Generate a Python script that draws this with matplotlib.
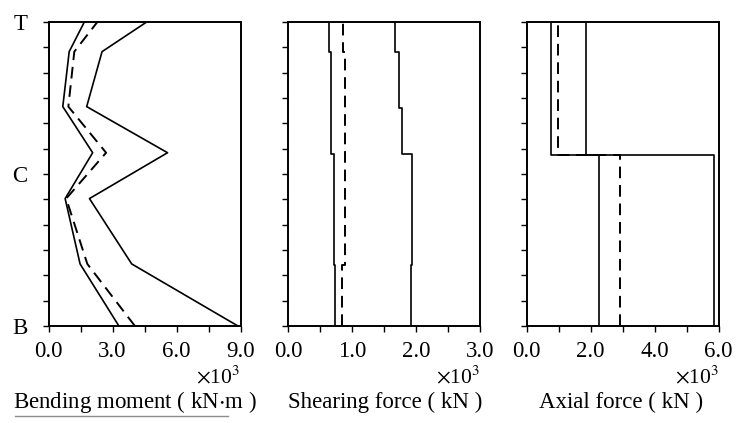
import numpy as np
import matplotlib
matplotlib.use("Agg")
import matplotlib.pyplot as plt
import matplotlib.transforms as mtransforms
from matplotlib.lines import Line2D

plt.rcParams['font.family'] = ['Liberation Serif', 'DejaVu Serif']

# storey levels (B = 0, C = 6, T = 12)
level_labels = ['B', 'C', 'T']
level_ticks = [0, 6, 12]

# bending moment envelope (x10^3 kN-m), vertices at these heights
bm_levels = [0, 2.45, 5.03, 6.84, 8.66, 10.83, 12]
bm_min = [3.30, 1.48, 0.78, 2.07, 0.67, 0.97, 1.68]
bm_mean = [4.05, 1.82, 0.83, 2.70, 0.93, 1.21, 2.29]
bm_max = [8.88, 3.90, 1.92, 5.58, 1.79, 2.51, 4.60]

# shearing force (x10^3 kN), constant between these heights
sf_edges = [0, 2.4, 5.0, 6.78, 8.6, 10.8, 12]
sf_min = [0.73, 0.72, 0.71, 0.66, 0.66, 0.63]
sf_mean = [0.84, 0.88, 0.89, 0.89, 0.89, 0.86]
sf_max = [1.91, 1.94, 1.93, 1.77, 1.73, 1.66]

# axial force (x10^3 kN)
af_edges = [0, 6.74, 12]
af_min = [2.27, 0.75]
af_mean = [2.92, 0.99]
af_max = [5.85, 1.86]


def steps(vals, edges):
    edges = np.asarray(edges, dtype=float)
    y = np.column_stack([edges[:-1], edges[1:]]).ravel()
    x = np.repeat(np.asarray(vals, dtype=float), 2)
    return x, y


fig = plt.figure(figsize=(7.42, 4.23), dpi=100)
W, H = 742.0, 423.0
bot, top = 326.0, 22.0
lefts = [48.5, 288.3, 526.7]
width = 192.0

panels = [
    dict(xmax=9.0, step=1.5, lab=[0, 3, 6, 9], title='Bending moment ( kN$\\cdot$m )', tx=135),
    dict(xmax=3.0, step=0.5, lab=[0, 1, 2, 3], title='Shearing force ( kN )', tx=385),
    dict(xmax=6.0, step=1.0, lab=[0, 2, 4, 6], title='Axial force ( kN )', tx=621),
]

axes = []
for i, p in enumerate(panels):
    ax = fig.add_axes([lefts[i] / W, 1 - bot / H, width / W, (bot - top) / H])
    axes.append(ax)
    ax.set_xlim(0, p['xmax'])
    ax.set_ylim(0, 12)
    xt = np.arange(0, p['xmax'] + 1e-9, p['step'])
    ax.set_xticks(xt)
    ax.set_xticklabels(['%.1f' % v if any(abs(v - l) < 1e-9 for l in p['lab']) else '' for v in xt])
    ax.set_yticks(np.arange(0, 13))
    if i == 0:
        ax.set_yticklabels([level_labels[level_ticks.index(k)] if k in level_ticks else '' for k in range(13)])
    else:
        ax.set_yticklabels([])
    ax.tick_params(direction='out', length=4, width=1, labelsize=16.5, colors='black')
    ax.tick_params(axis='x', pad=7)
    ax.tick_params(axis='y', pad=11)
    for s in ax.spines.values():
        s.set_linewidth(1.4)
    trans = mtransforms.blended_transform_factory(ax.transAxes, fig.transFigure)
    ax.text(1.0, 1 - 377 / H, r'$\times$10$^3$', transform=trans, ha='right', va='center',
            fontsize=15.5, math_fontfamily='stix')
    fig.text(p['tx'] / W, 1 - 402 / H, p['title'], ha='center', va='center', fontsize=16.5,
             math_fontfamily='stix')

solid = dict(color='black', lw=1.2)
dash = dict(color='black', lw=1.4, ls=(0, (6, 3.5)))

ax = axes[0]
ax.plot(bm_min, bm_levels, **solid)
ax.plot(bm_mean, bm_levels, **dash)
ax.plot(bm_max, bm_levels, **solid)

ax = axes[1]
for vals, st in [(sf_min, solid), (sf_mean, dash), (sf_max, solid)]:
    x, y = steps(vals, sf_edges)
    ax.plot(x, y, **st)

ax = axes[2]
for vals, st in [(af_min, solid), (af_mean, dash), (af_max, solid)]:
    x, y = steps(vals, af_edges)
    ax.plot(x, y, **st)

# faint rule under the captions
fig.add_artist(Line2D([15 / W, 228 / W], [1 - 416 / H, 1 - 416 / H], color='0.55', lw=1.0))

fig.savefig('out.png', dpi=100)
